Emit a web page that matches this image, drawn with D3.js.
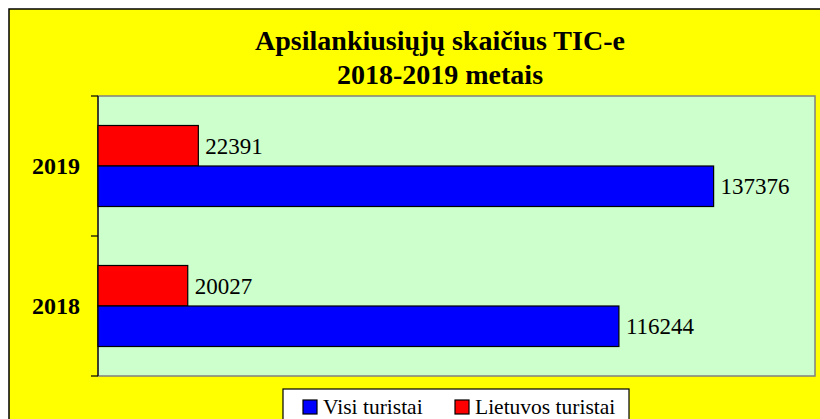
<!DOCTYPE html>
<html>
<head>
<meta charset="utf-8">
<script src="https://cdn.jsdelivr.net/npm/d3@7"></script>
<style>
  html, body { margin: 0; padding: 0; background: #ffffff; }
  svg { display: block; }
</style>
</head>
<body>
<svg id="chart" width="820" height="419"></svg>
<script>
// ---- data ----
const titleLines = ["Apsilankiusiųjų skaičius TIC-e", "2018-2019 metais"];
const categories = ["2019", "2018"];            // top to bottom
const seriesNames = ["Lietuvos turistai", "Visi turistai"]; // order inside a band (top to bottom)
const lietuvosTuristai = [22391, 20027];        // per category above
const visiTuristai = [137376, 116244];
const seriesColors = ["#ff0000", "#0000ff"];
const legendOrder = ["Visi turistai", "Lietuvos turistai"];
const xDomainMax = 160000;

const seriesValues = [lietuvosTuristai, visiTuristai];

const svg = d3.select("#chart");
const W = 820, H = 419;

// outer chart area
svg.append("rect").attr("x", 9).attr("y", 9).attr("width", W + 10).attr("height", H + 10)
  .attr("fill", "#ffff00").attr("stroke", "#000").attr("stroke-width", 1.5);

// title
const title = svg.append("text")
  .attr("x", 440).attr("text-anchor", "middle")
  .attr("font-family", "'Liberation Serif', 'Times New Roman', serif")
  .attr("font-weight", "bold").attr("font-size", 28).attr("fill", "#000");
titleLines.forEach((t, i) => {
  title.append("tspan").attr("x", 440).attr("y", 50 + i * 34).text(t);
});

// plot area
const plot = { left: 98, right: 815, top: 96, bottom: 376 };
const x = d3.scaleLinear().domain([0, xDomainMax]).range([plot.left, plot.right]);
const y0 = d3.scaleBand().domain(categories).range([plot.top, plot.bottom]).padding(0);
const y1 = d3.scaleBand().domain(seriesNames).range([0, y0.bandwidth()])
  .paddingInner(0).paddingOuter(0.728);

svg.append("rect")
  .attr("x", plot.left).attr("y", plot.top)
  .attr("width", plot.right - plot.left).attr("height", plot.bottom - plot.top)
  .attr("fill", "#ccffcc").attr("stroke", "#808080").attr("stroke-width", 1.5);

// left axis line and boundary ticks
svg.append("line")
  .attr("x1", plot.left).attr("x2", plot.left)
  .attr("y1", plot.top).attr("y2", plot.bottom)
  .attr("stroke", "#000").attr("stroke-width", 1.2);

const boundaries = [y0.range()[0]].concat(categories.map(c => y0(c) + y0.bandwidth()));
svg.selectAll(".tick-b").data(boundaries).enter().append("line")
  .attr("x1", plot.left - 7).attr("x2", plot.left)
  .attr("y1", d => d).attr("y2", d => d)
  .attr("stroke", "#000").attr("stroke-width", 1.2);

// category labels
svg.selectAll(".cat").data(categories).enter().append("text")
  .attr("x", 80).attr("y", d => y0(d) + y0.bandwidth() / 2)
  .attr("dy", "0.35em").attr("text-anchor", "end")
  .attr("font-family", "'Liberation Serif', 'Times New Roman', serif")
  .attr("font-weight", "bold").attr("font-size", 24).attr("fill", "#000")
  .text(d => d);

// bars
const barData = [];
categories.forEach((c, ci) => {
  seriesNames.forEach((s, si) => {
    barData.push({ cat: c, series: s, value: seriesValues[si][ci], color: seriesColors[si] });
  });
});

svg.selectAll(".bar").data(barData).enter().append("rect")
  .attr("x", x(0))
  .attr("y", d => y0(d.cat) + y1(d.series))
  .attr("width", d => x(d.value) - x(0))
  .attr("height", y1.bandwidth())
  .attr("fill", d => d.color)
  .attr("stroke", "#000").attr("stroke-width", 1.2);

// value labels
svg.selectAll(".val").data(barData).enter().append("text")
  .attr("x", d => x(d.value) + 7)
  .attr("y", d => y0(d.cat) + y1(d.series) + y1.bandwidth() / 2)
  .attr("dy", "0.35em")
  .attr("font-family", "'Liberation Serif', 'Times New Roman', serif")
  .attr("font-size", 23).attr("fill", "#000")
  .text(d => d.value);

// legend
const legend = svg.append("g");
legend.append("rect").attr("x", 283).attr("y", 389).attr("width", 346).attr("height", 40)
  .attr("fill", "#ffffff").attr("stroke", "#000").attr("stroke-width", 1.2);
const legendX = [303, 455];
legendOrder.forEach((name, i) => {
  const si = seriesNames.indexOf(name);
  legend.append("rect").attr("x", legendX[i]).attr("y", 400).attr("width", 14).attr("height", 14)
    .attr("fill", seriesColors[si]).attr("stroke", "#000").attr("stroke-width", 1.2);
  legend.append("text").attr("x", legendX[i] + 20).attr("y", 413.5)
    .attr("font-family", "'Liberation Serif', 'Times New Roman', serif")
    .attr("font-size", 21.5).attr("fill", "#000").text(name);
});
</script>
</body>
</html>
